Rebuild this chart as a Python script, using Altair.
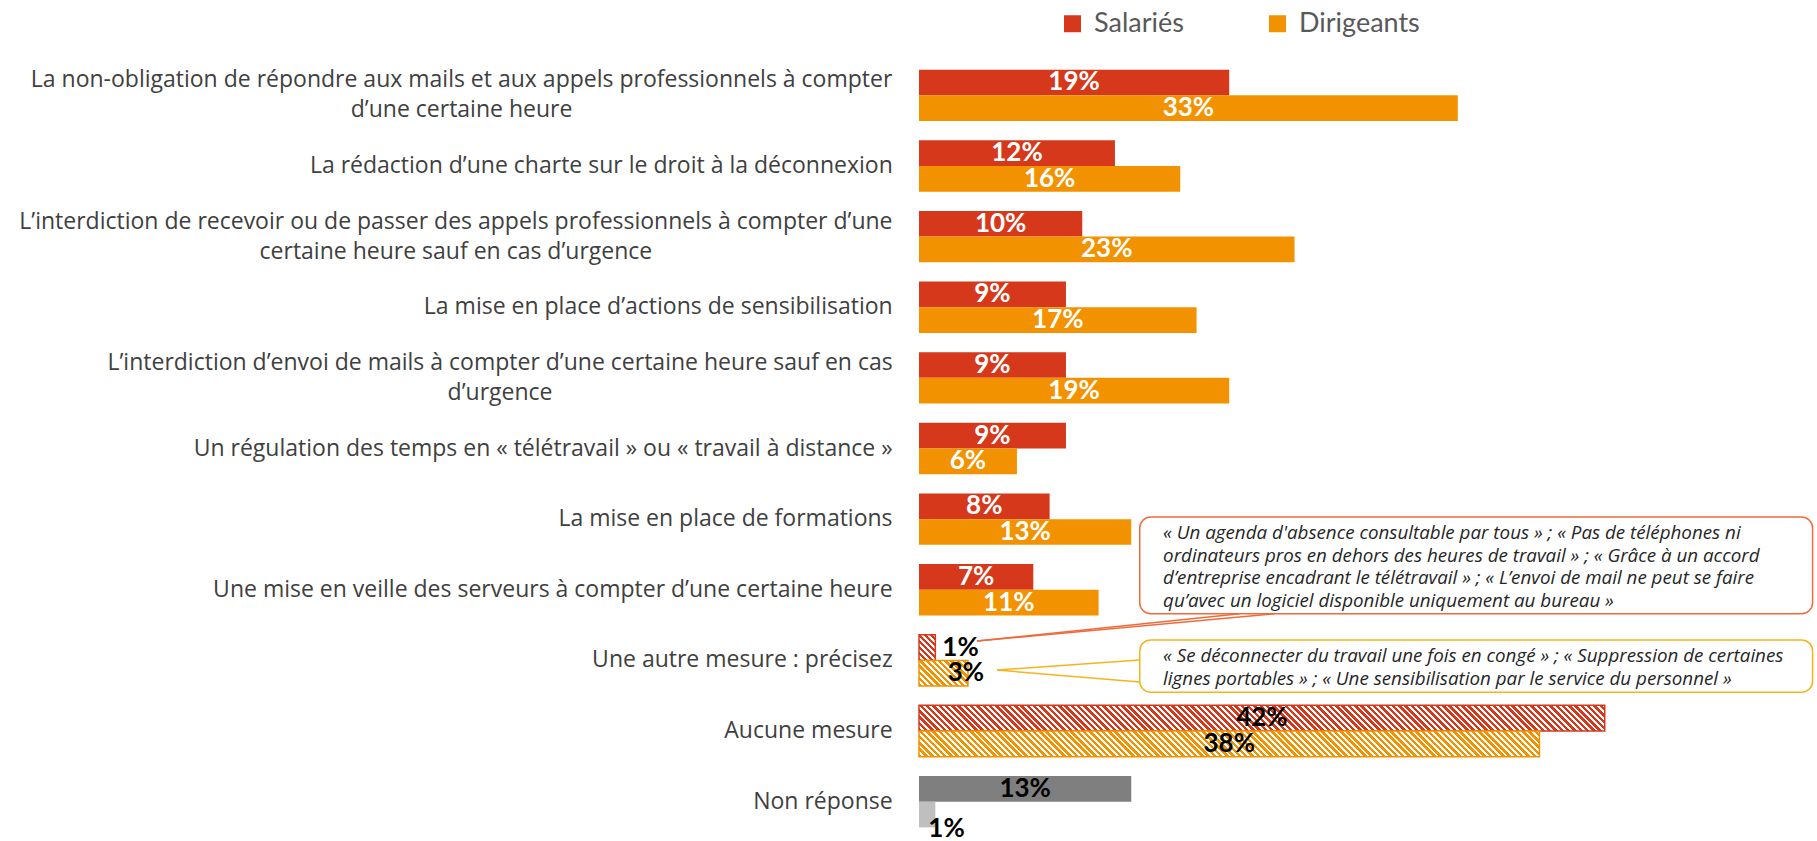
import os
import glob
import struct
import subprocess
import numpy as np
import pandas as pd
import altair as alt

# ---------------- data ----------------
CATEGORIES = [
    "La non-obligation de répondre aux mails et aux appels professionnels à compter\nd’une certaine heure",
    "La rédaction d’une charte sur le droit à la déconnexion",
    "L’interdiction de recevoir ou de passer des appels professionnels à compter d’une\ncertaine heure sauf en cas d’urgence",
    "La mise en place d’actions de sensibilisation",
    "L’interdiction d’envoi de mails à compter d’une certaine heure sauf en cas\nd’urgence",
    "Un régulation des temps en « télétravail » ou « travail à distance »",
    "La mise en place de formations",
    "Une mise en veille des serveurs à compter d’une certaine heure",
    "Une autre mesure : précisez",
    "Aucune mesure",
    "Non réponse",
]
SALARIES = [19, 12, 10, 9, 9, 9, 8, 7, 1, 42, 13]
DIRIGEANTS = [33, 16, 23, 17, 19, 6, 13, 11, 3, 38, 1]
SERIES = ["Salariés", "Dirigeants"]
OTHER_CAT = "Une autre mesure : précisez"
NONE_CAT = "Aucune mesure"
NR_CAT = "Non réponse"

ANNOTATIONS = [
    "« Un agenda d'absence consultable par tous » ; « Pas de téléphones ni\n"
    "ordinateurs pros en dehors des heures de travail » ; « Grâce à un accord\n"
    "d’entreprise encadrant le télétravail » ; « L’envoi de mail ne peut se faire\n"
    "qu’avec un logiciel disponible uniquement au bureau »",
    "« Se déconnecter du travail une fois en congé » ; « Suppression de certaines\n"
    "lignes portables » ; « Une sensibilisation par le service du personnel »",
]
ANN_KEY = ["Salariés", "Dirigeants"]
# annotation anchors in data space (x: percent, y: row units from top)
ANN_X0 = [13.52, 13.52]
ANN_X1 = [54.73, 54.73]
ANN_Y0 = [6.47, 8.21]
ANN_Y1 = [7.84, 8.95]
ANN_TX = [14.95, 14.95]
ANN_TY = [6.70, 8.44]          # first text line
TAIL_X = [3.55, 4.78]
TAIL_Y = [8.226, 8.637]
TAIL_BX = [[19.64, 21.78], [13.52, 13.52]]
TAIL_BY = [[7.84, 7.84], [8.495, 8.807]]

# ---------------- styles ----------------
RED = "#D5381A"
ORANGE = "#F39200"
GRAY = "#7F7F7F"
LGRAY = "#BFBFBF"
ANN_COL = ["#EE6B3B", "#F5B41E"]
X_MAX = 55
PLOT_W = 898
PLOT_H = 777
PX = PLOT_W / X_MAX
P_INNER = 0.273
LABEL_FONT = "Open Sans"
LABEL_FS = 23
LABEL_LH = 30
LABEL_GAP = 26.3


def _find_font():
    dirs = ["/usr/share/fonts", "/usr/local/share/fonts",
            os.path.expanduser("~/.fonts"), os.path.expanduser("~/.local/share/fonts")]
    cands = []
    for d in dirs:
        cands += glob.glob(os.path.join(d, "**", "OpenSans*.ttf"), recursive=True)
    cands = [c for c in cands if "italic" not in os.path.basename(c).lower()]
    for key in ("OpenSans-Regular", "wght", "OpenSans"):
        for c in cands:
            if key in os.path.basename(c):
                return c
    try:
        r = subprocess.run(["fc-match", "-f", "%{file}", "Open Sans:regular"],
                           capture_output=True, text=True, timeout=5)
        if r.stdout and os.path.exists(r.stdout):
            return r.stdout
    except Exception:
        pass
    return None


def _metrics(path):
    with open(path, "rb") as f:
        data = f.read()
    nt = struct.unpack(">H", data[4:6])[0]
    tables = {}
    for i in range(nt):
        tag, _cs, off, ln = struct.unpack(">4sIII", data[12 + 16 * i:28 + 16 * i])
        tables[tag.decode("latin-1")] = off
    upem = struct.unpack(">H", data[tables["head"] + 18:tables["head"] + 20])[0]
    nhm = struct.unpack(">H", data[tables["hhea"] + 34:tables["hhea"] + 36])[0]
    ho = tables["hmtx"]
    adv = [struct.unpack(">H", data[ho + 4 * i:ho + 4 * i + 2])[0] for i in range(nhm)]
    co = tables["cmap"]
    n = struct.unpack(">H", data[co + 2:co + 4])[0]
    sub = None
    for i in range(n):
        pid, eid, so = struct.unpack(">HHI", data[co + 4 + 8 * i:co + 12 + 8 * i])
        fmt = struct.unpack(">H", data[co + so:co + so + 2])[0]
        if fmt == 4 and (pid == 3 or pid == 0):
            sub = co + so
            break
    o = sub
    sx2 = struct.unpack(">H", data[o + 6:o + 8])[0]
    seg = sx2 // 2
    ends = struct.unpack(">%dH" % seg, data[o + 14:o + 14 + sx2])
    starts = struct.unpack(">%dH" % seg, data[o + 16 + sx2:o + 16 + 2 * sx2])
    deltas = struct.unpack(">%dh" % seg, data[o + 16 + 2 * sx2:o + 16 + 3 * sx2])
    rp = o + 16 + 3 * sx2
    roffs = struct.unpack(">%dH" % seg, data[rp:rp + sx2])

    def glyph(c):
        for i in range(seg):
            if ends[i] >= c:
                if starts[i] > c:
                    return 0
                if roffs[i] == 0:
                    return (c + deltas[i]) & 0xFFFF
                a = rp + 2 * i + roffs[i] + 2 * (c - starts[i])
                g = struct.unpack(">H", data[a:a + 2])[0]
                return (g + deltas[i]) & 0xFFFF if g else 0
        return 0

    def width(s, size):
        t = 0
        for ch in s:
            g = glyph(ord(ch))
            t += adv[min(g, nhm - 1)]
        return t * size / upem
    return width


try:
    text_width = _metrics(_find_font())
except Exception:
    def text_width(s, size):
        return 0.54 * size * len(s)

# ---------------- tables ----------------
rows = []
for i, c in enumerate(CATEGORIES):
    for s, v in zip(SERIES, (SALARIES[i], DIRIGEANTS[i])):
        if c in (OTHER_CAT, NONE_CAT):
            group = "hatch"
        elif c == NR_CAT:
            group = "nr"
        else:
            group = "plain"
        ckey = s if group != "nr" else "NR " + s
        rows.append({"category": c, "series": s, "value": v, "half": v / 2,
                     "label": f"{v}%", "group": group, "ckey": ckey})
df = pd.DataFrame(rows)

lab = pd.DataFrame({
    "category": CATEGORIES,
    "nlines": [len(c.split("\n")) for c in CATEGORIES],
    "lx": [-(LABEL_GAP + max(text_width(l, LABEL_FS) for l in c.split("\n")) / 2) / PX
           for c in CATEGORIES],
})

ann = pd.DataFrame({"key": ANN_KEY, "text": ANNOTATIONS, "x0": ANN_X0, "x1": ANN_X1,
                    "y0": ANN_Y0, "y1": ANN_Y1, "tx": ANN_TX, "ty": ANN_TY})
tails = pd.DataFrame([
    {"key": ANN_KEY[k], "x": TAIL_X[k], "y": TAIL_Y[k], "bx": TAIL_BX[k][j], "by": TAIL_BY[k][j]}
    for k in range(2) for j in range(2)
])

# ---------------- scales ----------------
xs = alt.Scale(domain=[0, X_MAX], nice=False, zero=True)
ys = alt.Scale(type="band", domain=CATEGORIES, paddingInner=P_INNER, paddingOuter=P_INNER / 2)
yo = alt.Scale(type="band", domain=SERIES, paddingInner=0, paddingOuter=0)
rs = alt.Scale(domain=[0, len(CATEGORIES)], reverse=True, nice=False, zero=False)
acs = alt.Scale(domain=ANN_KEY, range=ANN_COL)

X = lambda f: alt.X(f, scale=xs, axis=None)
Y = alt.Y("category:N", scale=ys, axis=None)
YO = alt.YOffset("series:N", scale=yo)

base = alt.Chart(df)

bars = base.transform_filter(
    alt.FieldOneOfPredicate(field="group", oneOf=["plain", "nr"])
).mark_bar().encode(
    x=X("value:Q"), y=Y, yOffset=YO,
    color=alt.Color("ckey:N",
                    scale=alt.Scale(domain=SERIES + ["NR " + s for s in SERIES],
                                    range=[RED, ORANGE, GRAY, LGRAY]),
                    legend=alt.Legend(orient="none", legendX=140, legendY=-50,
                                      direction="horizontal", title=None, values=SERIES,
                                      symbolType="square", symbolSize=289,
                                      symbolStrokeWidth=0, labelFontSize=27,
                                      labelFont="Lato", labelColor="#595959",
                                      labelOffset=8, columnPadding=80)),
)

bar_h = PLOT_H / len(CATEGORIES) * (1 - P_INNER) / 2


def hatch_gradient(color, W, h, ph=6.3, frac=0.55):
    s = (W + h) / (W * W + h * h)
    n = max(1, int(np.ceil((W + h) / ph)))
    dt = 1.0 / n
    stops = []
    for k in range(n):
        a = round(k * dt, 6)
        b = round(min(1.0, (k + frac) * dt), 6)
        c = round(min(1.0, (k + 1) * dt), 6)
        stops += [alt.GradientStop(offset=a, color=color),
                  alt.GradientStop(offset=b, color=color),
                  alt.GradientStop(offset=b, color="white"),
                  alt.GradientStop(offset=c, color="white")]
    return alt.LinearGradient(gradient="linear", stops=stops,
                              x1=0, y1=1, x2=s * W, y2=1 - s * h)


hatch_layers = []
for _, r in df[df.group == "hatch"].iterrows():
    col = RED if r.series == SERIES[0] else ORANGE
    hatch_layers.append(
        base.transform_filter(
            (alt.datum.category == r.category) & (alt.datum.series == r.series)
        ).mark_bar(fill=hatch_gradient(col, r.value * PX, bar_h), stroke=col,
                   strokeWidth=1.5).encode(x=X("value:Q"), y=Y, yOffset=YO)
    )

VFONT = dict(font="Lato", fontWeight="bold", fontSize=26, baseline="middle")


def vlabel(pred, xfield, color, **kw):
    return base.transform_filter(pred).mark_text(color=color, **VFONT, **kw).encode(
        x=X(xfield), y=Y, yOffset=YO, text="label:N")


lab_plain = vlabel(alt.datum.group == "plain", "half:Q", "white", align="center")
lab_none = vlabel(alt.datum.category == NONE_CAT, "half:Q", "black", align="center")
lab_oth_s = vlabel((alt.datum.category == OTHER_CAT) & (alt.datum.series == SERIES[0]),
                   "value:Q", "black", align="left", dx=7)
lab_oth_d = vlabel((alt.datum.category == OTHER_CAT) & (alt.datum.series == SERIES[1]),
                   "value:Q", "black", align="center", dx=-2)
lab_nr_s = vlabel((alt.datum.category == NR_CAT) & (alt.datum.series == SERIES[0]),
                  "half:Q", "black", align="center")
lab_nr_d = vlabel((alt.datum.category == NR_CAT) & (alt.datum.series == SERIES[1]),
                  "value:Q", "black", align="left", dx=-7, dy=14)


def cat_layer(n):
    return alt.Chart(lab).transform_filter(alt.datum.nlines == n).mark_text(
        align="center", baseline="middle", lineBreak="\n", lineHeight=LABEL_LH,
        dy=-(n - 1) * LABEL_LH / 2,
        font=LABEL_FONT, fontSize=LABEL_FS, color="#404040"
    ).encode(x=X("lx:Q"), y=Y, text="category:N")


main = alt.layer(bars, *hatch_layers, lab_plain, lab_none, lab_oth_s, lab_oth_d,
                 lab_nr_s, lab_nr_d, cat_layer(1), cat_layer(2))

tail_layer = alt.Chart(tails).mark_rule(strokeWidth=1.5).encode(
    x=X("x:Q"), x2="bx:Q",
    y=alt.Y("y:Q", scale=rs, axis=None), y2="by:Q",
    stroke=alt.Stroke("key:N", scale=acs, legend=None))
box_layer = alt.Chart(ann).mark_rect(fill="white", strokeWidth=1.5, cornerRadius=11).encode(
    x=X("x0:Q"), x2="x1:Q",
    y=alt.Y("y0:Q", scale=rs, axis=None), y2="y1:Q",
    stroke=alt.Stroke("key:N", scale=acs, legend=None))
ann_text = alt.Chart(ann).mark_text(
    align="left", baseline="middle", lineBreak="\n", lineHeight=22.5,
    font="Open Sans", fontStyle="italic", fontSize=18.8, color="#262626"
).encode(x=X("tx:Q"), y=alt.Y("ty:Q", scale=rs, axis=None), text="text:N")

annots = alt.layer(tail_layer, box_layer, ann_text)

chart = alt.layer(main, annots).resolve_scale(y="independent", stroke="independent").properties(
    width=PLOT_W, height=PLOT_H,
    autosize=alt.AutoSizeParams(type="none"),
    padding={"left": 919, "top": 60, "right": 0, "bottom": 4},
    background="white",
).configure_view(stroke=None)

chart.save("out.html", embed_options={"renderer": "svg", "actions": False})
